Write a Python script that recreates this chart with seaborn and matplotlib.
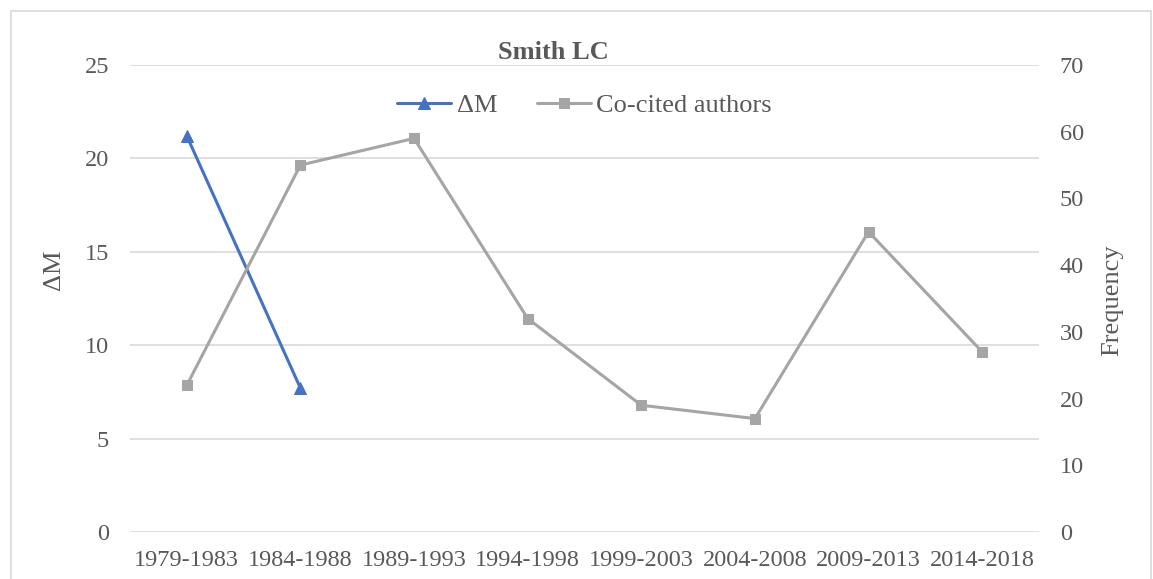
import matplotlib
matplotlib.use('Agg')
import pandas as pd
import seaborn as sns
from matplotlib import pyplot as plt
from matplotlib.patches import Rectangle

periods = ["1979-1983", "1984-1988", "1989-1993", "1994-1998",
           "1999-2003", "2004-2008", "2009-2013", "2014-2018"]
delta_m = [21.2, 7.7, None, None, None, None, None, None]
co_cited = [22, 55, 59, 32, 19, 17, 45, 27]

BLUE = "#4472C4"
GREY = "#A5A5A5"
TEXT = "#595959"
GRID = "#D9D9D9"

sns.set_theme(style="white")
plt.rcParams.update({
    "font.family": ["Liberation Serif", "DejaVu Serif"],
    "font.size": 17,
    "text.color": TEXT,
    "axes.labelcolor": TEXT,
    "xtick.color": TEXT,
    "ytick.color": TEXT,
})

df = pd.DataFrame({"period": periods, "delta_m": delta_m, "co_cited": co_cited})

W, H = 1153, 579
fig = plt.figure(figsize=(W / 100, H / 100), dpi=100)
ax = fig.add_axes([130 / W, 1 - 532 / H, (1039 - 130) / W, (532 - 65) / H])
ax2 = ax.twinx()

sns.lineplot(data=df.dropna(subset=["delta_m"]), x="period", y="delta_m", ax=ax,
             color=BLUE, marker="^", markersize=8, markeredgecolor=BLUE,
             linewidth=2.2, sort=False, label="\u0394M", legend=False)
sns.lineplot(data=df, x="period", y="co_cited", ax=ax2,
             color=GREY, marker="s", markersize=6.5, markeredgecolor=GREY,
             linewidth=2.2, sort=False, label="Co-cited authors", legend=False)

ax.set_xlim(-0.5, len(periods) - 0.5)
ax.set_xticks(range(len(periods)))
ax.set_xticklabels(periods)
ax.set_ylim(0, 25)
ax.set_yticks(range(0, 26, 5))
ax2.set_ylim(0, 70)
ax2.set_yticks(range(0, 71, 10))

ax.yaxis.grid(True, color=GRID, linewidth=1.2)
ax.set_axisbelow(True)
for a in (ax, ax2):
    for s in a.spines.values():
        s.set_visible(False)
    a.tick_params(length=0, labelsize=17.5)
ax.tick_params(axis="y", pad=15)
ax2.tick_params(axis="y", pad=15)
ax.tick_params(axis="x", pad=13)

ax.set_xlabel("")
ax.set_ylabel("\u0394M", fontsize=19)
ax.yaxis.set_label_coords(-0.072, 0.561)
ax2.set_ylabel("Frequency", fontsize=19)
ax2.yaxis.set_label_coords(1.068, 0.497)

fig.text(553 / W, 1 - 59 / H, "Smith LC", fontsize=19, fontweight="bold",
         color=TEXT, ha="center", va="baseline")

h1, l1 = ax.get_legend_handles_labels()
h2, l2 = ax2.get_legend_handles_labels()
ax.legend(h1 + h2, l1 + l2, loc="center", bbox_to_anchor=(0.5, 0.914), ncol=2,
          frameon=False, fontsize=19, handlelength=2.05, columnspacing=1.5,
          handletextpad=0.2, labelcolor=TEXT)

fig.patches.append(Rectangle((11 / W, -0.05), (1151 - 11) / W, 1.05 - 11 / H,
                             transform=fig.transFigure, fill=False,
                             edgecolor=GRID, linewidth=1.2))

fig.savefig("out.png", dpi=100)
